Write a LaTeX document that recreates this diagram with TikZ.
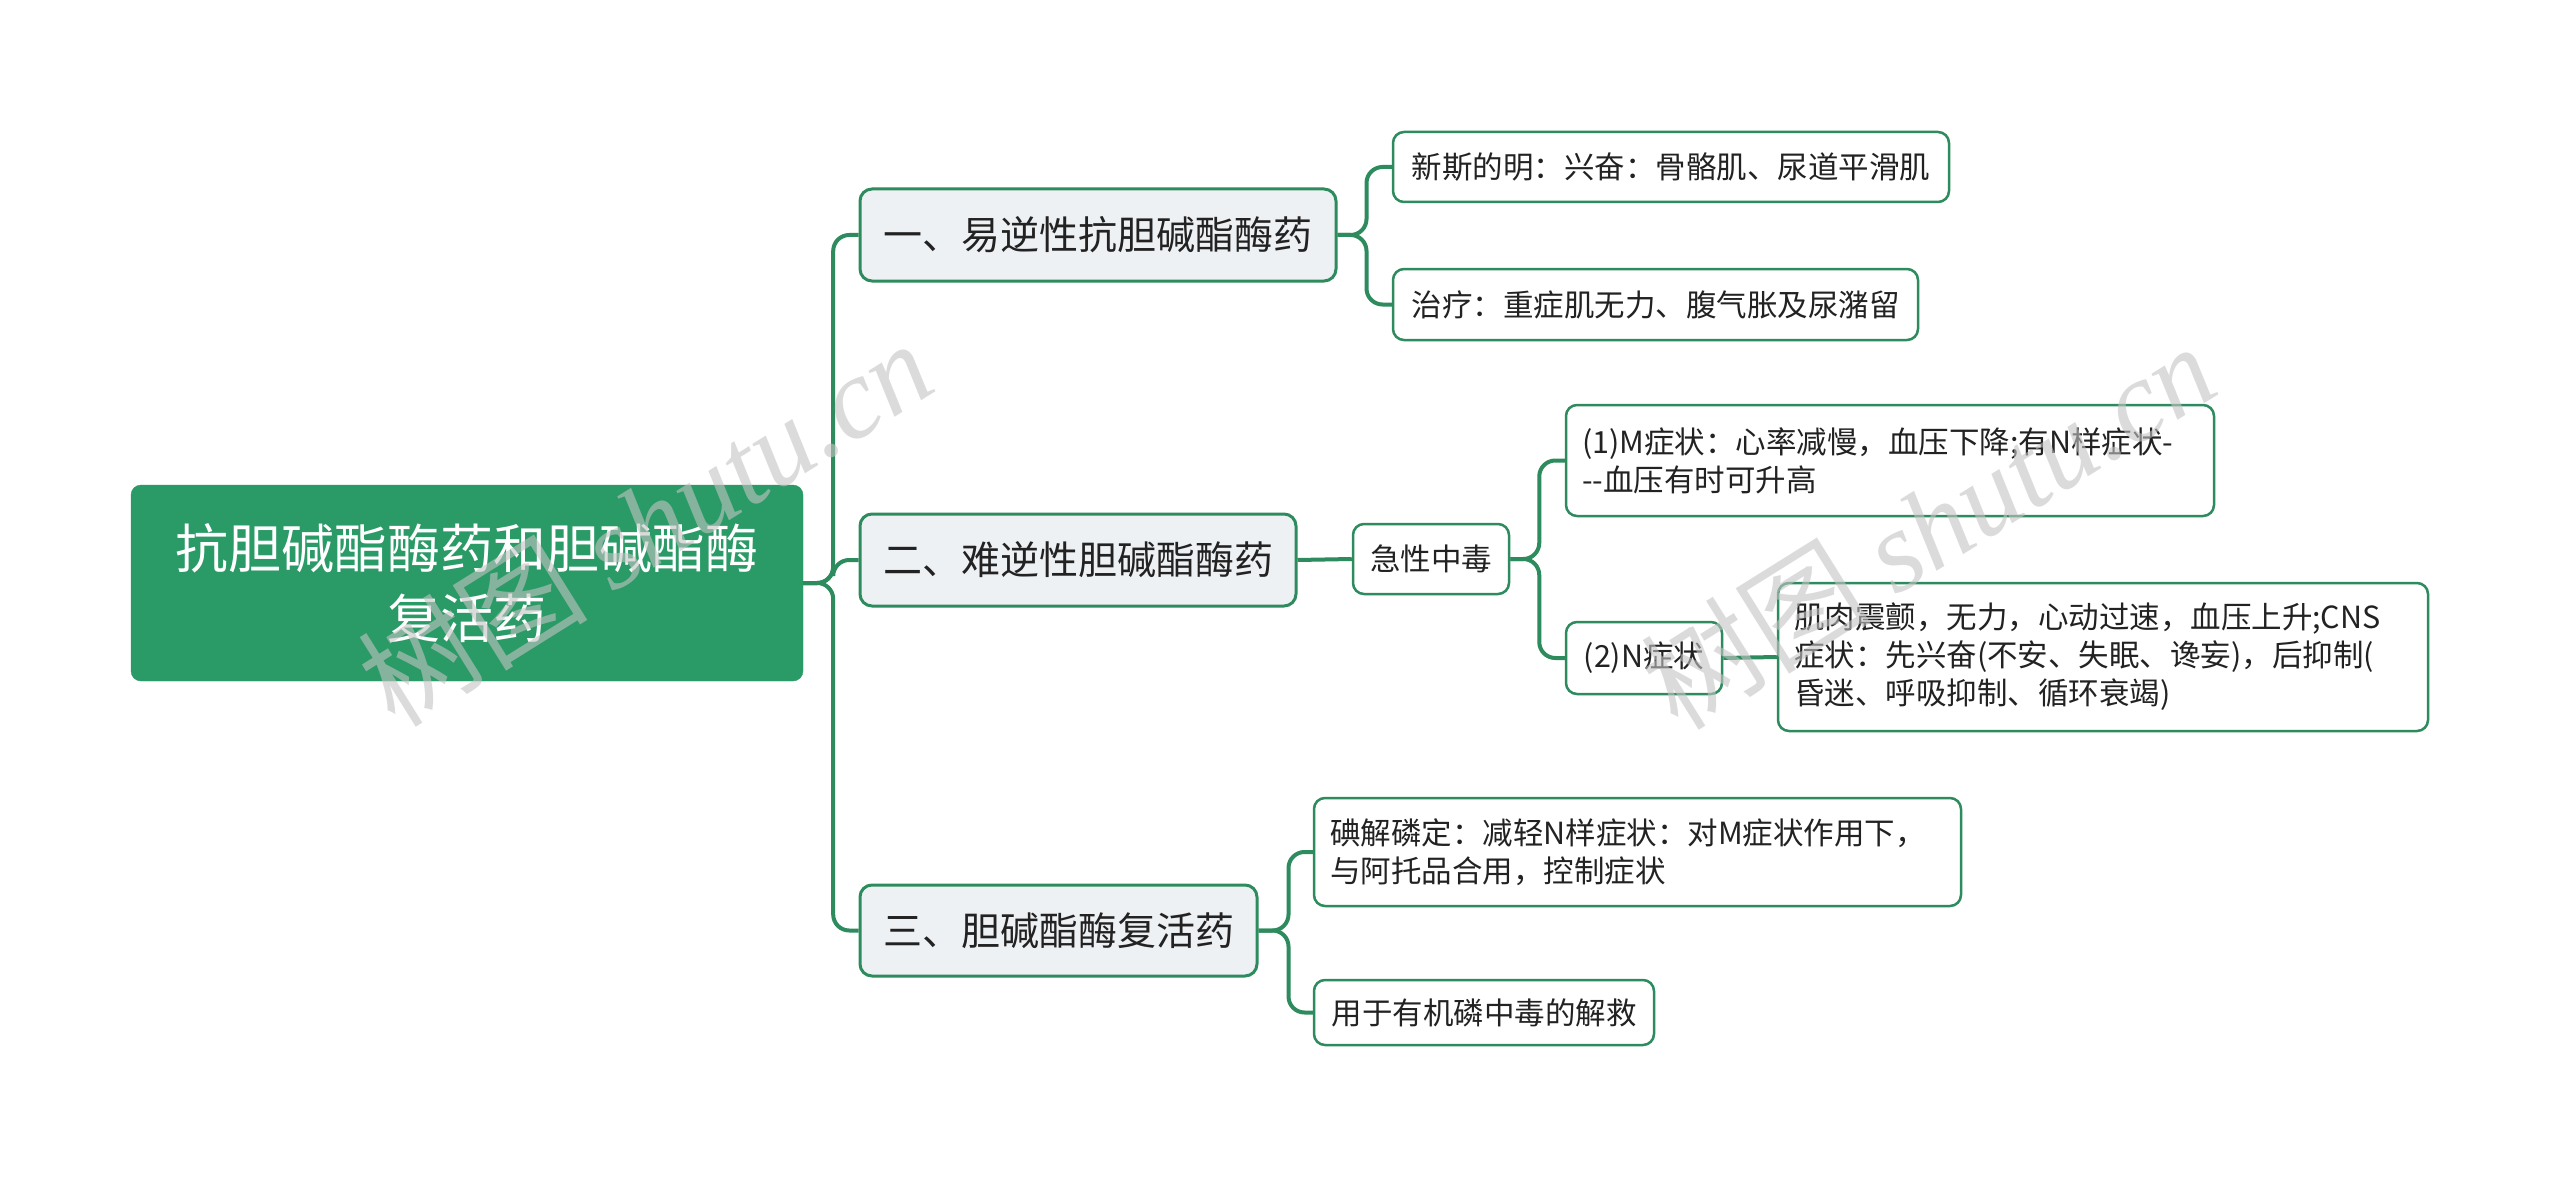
\documentclass[tikz,border=0pt]{standalone}
\usepackage{fontspec}
\setmainfont{Noto Sans CJK SC}
\newfontfamily\wmlatin{Liberation Serif}
\definecolor{lc}{HTML}{2E8B5E}
\definecolor{rootfill}{HTML}{2A9A66}
\definecolor{lvfill}{HTML}{EEF1F4}
\definecolor{textc}{HTML}{222222}
\definecolor{wmc}{HTML}{C4C4C4}
\begin{document}
\begin{tikzpicture}[x=1pt,y=-1pt,
 conn/.style={draw=lc, line width=4pt, rounded corners=16pt},
 rootbox/.style={draw=rootfill, fill=rootfill, rounded corners=10pt, text=white, font=\fontsize{53}{70}\selectfont, align=center, inner sep=0pt},
 lvone/.style={draw=lc, fill=lvfill, line width=3pt, rounded corners=12pt, font=\fontsize{39}{48}\selectfont, inner sep=0pt, text=textc},
 leaf/.style={draw=lc, fill=white, line width=2.5pt, rounded corners=11pt, font=\fontsize{30.5}{38}\selectfont, inner sep=0pt, text=textc},
 wm/.style={text=wmc, opacity=0.6, font=\fontsize{115}{120}\selectfont, inner sep=0pt},
]
\useasboundingbox (0,0) rectangle (2560,1177);
\fill[white] (0,0) rectangle (2560,1177);

% nodes
\node[rootbox, minimum width=672pt, minimum height=196pt] (root) at (467,583) {抗胆碱酯酶药和胆碱酯酶\\复活药};

\node[lvone, minimum width=476pt, minimum height=92pt] (L1a) at (1098,235) {一、易逆性抗胆碱酯酶药};
\node[lvone, minimum width=436pt, minimum height=92pt] (L1b) at (1078,560) {二、难逆性胆碱酯酶药};
\node[lvone, minimum width=397pt, minimum height=91pt] (L1c) at (1058.5,930.5) {三、胆碱酯酶复活药};

\node[leaf, minimum width=556pt, minimum height=70pt] (A1) at (1671,167) {新斯的明：兴奋：骨骼肌、尿道平滑肌};
\node[leaf, minimum width=525pt, minimum height=71pt] (A2) at (1655.5,304.5) {治疗：重症肌无力、腹气胀及尿潴留};

\node[leaf, minimum width=156pt, minimum height=70pt] (B) at (1431,559) {急性中毒};
\node[leaf, minimum width=648pt, minimum height=111pt, text width=616pt, align=left] (B1) at (1890,460.5) {(1)M症状：心率减慢，血压下降;有N样症状{-}\\{-}{-}血压有时可升高};
\node[leaf, minimum width=156pt, minimum height=72pt] (B2) at (1644,658) {(2)N症状};
\node[leaf, minimum width=650pt, minimum height=148pt, text width=618pt, align=left] (B2a) at (2103,657) {肌肉震颤，无力，心动过速，血压上升;CNS\\症状：先兴奋(不安、失眠、谗妄)，后抑制(\\昏迷、呼吸抑制、循环衰竭)};

\node[leaf, minimum width=647pt, minimum height=108pt, text width=615pt, align=left] (C1) at (1637.5,852) {碘解磷定：减轻N样症状：对M症状作用下，\\与阿托品合用，控制症状};
\node[leaf, minimum width=340pt, minimum height=65pt] (C2) at (1484,1012.5) {用于有机磷中毒的解救};

% connectors
\draw[conn] (root.east) -- ++(30,0) |- (L1a.west);
\draw[conn] (root.east) -- ++(30,0) |- (L1b.west);
\draw[conn] (root.east) -- ++(30,0) |- (L1c.west);

\draw[conn] (L1a.east) -- ++(29,0) |- (A1.west);
\draw[conn] (L1a.east) -- ++(29,0) |- (A2.west);

\draw[conn] (L1b.east) -- (B.west);
\draw[conn] (B.east) -- ++(29,0) |- (B1.west);
\draw[conn] (B.east) -- ++(29,0) |- (B2.west);
\draw[conn] (B2.east) -- (B2a.west);

\draw[conn] (L1c.east) -- ++(30,0) |- (C1.west);
\draw[conn] (L1c.east) -- ++(30,0) |- (C2.west);

% watermarks
\node[wm, rotate=32] (wm1) at (645,522) {树图 {\wmlatin\itshape shutu.cn}};
\node[wm, rotate=32] (wm2) at (1928,525) {树图 {\wmlatin\itshape shutu.cn}};
\end{tikzpicture}
\end{document}
